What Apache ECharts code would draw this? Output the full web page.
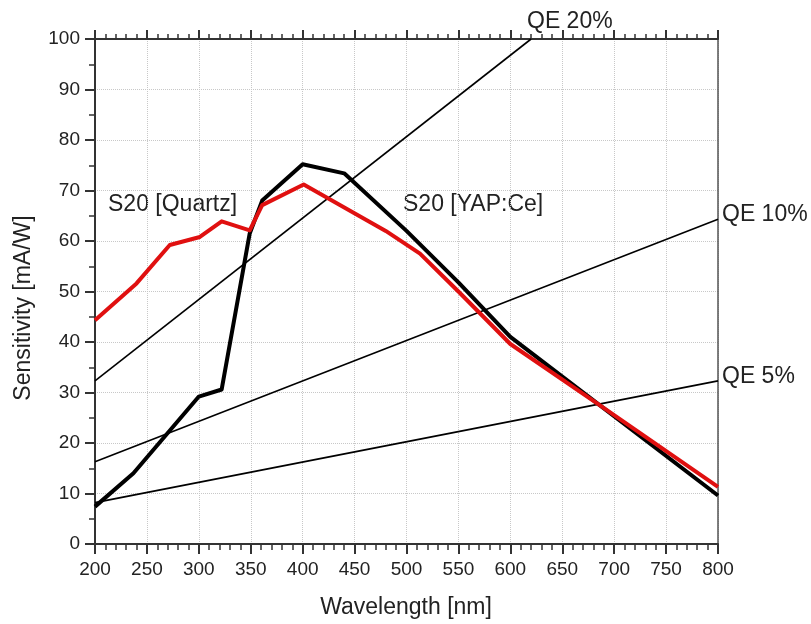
<!DOCTYPE html>
<html>
<head>
<meta charset="utf-8">
<script src="https://cdn.jsdelivr.net/npm/echarts@6/dist/echarts.min.js"></script>
<style>
html,body{margin:0;padding:0;background:#fff;}
#chart{width:811px;height:624px;}
</style>
</head>
<body>
<div id="chart"></div>
<script>
// ---- data ----
var yapWavelength = [200, 237, 300, 322, 349, 361, 400, 440, 500, 550, 600, 686, 800];
var yapSensitivity = [7.4, 14.0, 29.2, 30.6, 61.5, 68.0, 75.2, 73.4, 62.0, 51.8, 41.0, 27.5, 9.6];

var quartzWavelength = [200, 240, 272, 301, 322, 349, 361, 401, 480, 513, 550, 600, 686, 800];
var quartzSensitivity = [44.3, 51.6, 59.2, 60.8, 63.9, 62.1, 67.1, 71.2, 62.0, 57.5, 50.0, 39.6, 27.5, 11.3];

var qe20Wavelength = [200, 620];
var qe20Sensitivity = [32.3, 100];
var qe10Wavelength = [200, 800];
var qe10Sensitivity = [16.3, 64.3];
var qe5Wavelength = [200, 800];
var qe5Sensitivity = [8.2, 32.3];

var xTickMin = 200, xTickMax = 800, xTickStep = 50;
var yTickMin = 0, yTickMax = 100, yTickStep = 10;

function pairs(xs, ys) { return xs.map(function (x, i) { return [x, ys[i]]; }); }

var FONT = 'Liberation Sans, Arial, sans-serif';
var TXT = '#222';
var AX = '#333';

var chart = echarts.init(document.getElementById('chart'), null, {renderer: 'canvas'});
var option = {
  animation: false,
  backgroundColor: '#fff',
  grid: {left: 95, right: 93, top: 39, bottom: 80, containLabel: false},
  xAxis: [{
    type: 'value', position: 'bottom', min: xTickMin, max: xTickMax, interval: xTickStep,
    axisLine: {show: true, onZero: false, lineStyle: {color: AX, width: 2}},
    axisTick: {show: true, inside: false, length: 10, lineStyle: {color: AX, width: 2}},
    minorTick: {show: true, splitNumber: 5, length: 6, lineStyle: {color: AX, width: 1.5}},
    axisLabel: {fontSize: 19, color: TXT, fontFamily: FONT, margin: 16},
    splitLine: {show: true, lineStyle: {type: 'dotted', color: '#c8c8c8', width: 1}}
  }, {
    type: 'value', position: 'top', min: xTickMin, max: xTickMax, interval: xTickStep,
    axisLine: {show: true, onZero: false, lineStyle: {color: AX, width: 2}},
    axisTick: {show: true, inside: false, length: 9, lineStyle: {color: AX, width: 2}},
    minorTick: {show: true, splitNumber: 5, length: 5, lineStyle: {color: AX, width: 1.5}},
    axisLabel: {show: false},
    splitLine: {show: false}
  }],
  yAxis: [{
    type: 'value', position: 'left', min: yTickMin, max: yTickMax, interval: yTickStep,
    axisLine: {show: true, onZero: false, lineStyle: {color: AX, width: 2}},
    axisTick: {show: true, inside: false, length: 10, lineStyle: {color: AX, width: 2}},
    minorTick: {show: true, splitNumber: 2, length: 6, lineStyle: {color: AX, width: 1.5}},
    axisLabel: {fontSize: 19, color: TXT, fontFamily: FONT, margin: 15},
    splitLine: {show: true, lineStyle: {type: 'dotted', color: '#c8c8c8', width: 1}}
  }, {
    type: 'value', position: 'right', min: yTickMin, max: yTickMax, interval: yTickStep,
    axisLine: {show: true, onZero: false, lineStyle: {color: '#555', width: 1.5}},
    axisTick: {show: false}, axisLabel: {show: false}, splitLine: {show: false}
  }],
  series: [
    {type: 'line', name: 'QE 20%', data: pairs(qe20Wavelength, qe20Sensitivity), symbol: 'none', clip: true,
     lineStyle: {color: '#000', width: 1.6}},
    {type: 'line', name: 'QE 10%', data: pairs(qe10Wavelength, qe10Sensitivity), symbol: 'none', clip: true,
     lineStyle: {color: '#000', width: 1.6}},
    {type: 'line', name: 'QE 5%', data: pairs(qe5Wavelength, qe5Sensitivity), symbol: 'none', clip: true,
     lineStyle: {color: '#000', width: 1.6}},
    {type: 'line', name: 'S20 [YAP:Ce]', data: pairs(yapWavelength, yapSensitivity), symbol: 'none',
     lineStyle: {color: '#000', width: 4, join: 'round'}},
    {type: 'line', name: 'S20 [Quartz]', data: pairs(quartzWavelength, quartzSensitivity), symbol: 'none',
     lineStyle: {color: '#e01010', width: 4, join: 'round'}}
  ],
  graphic: [
    {type: 'text', left: 108, top: 193, style: {text: 'S20 [Quartz]', font: '23px ' + FONT, fill: TXT}},
    {type: 'text', left: 403, top: 193, style: {text: 'S20 [YAP:Ce]', font: '23px ' + FONT, fill: TXT}},
    {type: 'text', left: 527, top: 10, style: {text: 'QE 20%', font: '23px ' + FONT, fill: TXT}},
    {type: 'text', left: 722, top: 203, style: {text: 'QE 10%', font: '23px ' + FONT, fill: TXT}},
    {type: 'text', left: 722, top: 365, style: {text: 'QE 5%', font: '23px ' + FONT, fill: TXT}},
    {type: 'text', x: 406, y: 608, style: {text: 'Wavelength [nm]', font: '23px ' + FONT, fill: TXT, textAlign: 'center', textVerticalAlign: 'middle'}},
    {type: 'text', x: 24, y: 308, rotation: Math.PI / 2, style: {text: 'Sensitivity [mA/W]', font: '23px ' + FONT, fill: TXT, textAlign: 'center', textVerticalAlign: 'middle'}}
  ]
};
chart.setOption(option);
</script>
</body>
</html>
